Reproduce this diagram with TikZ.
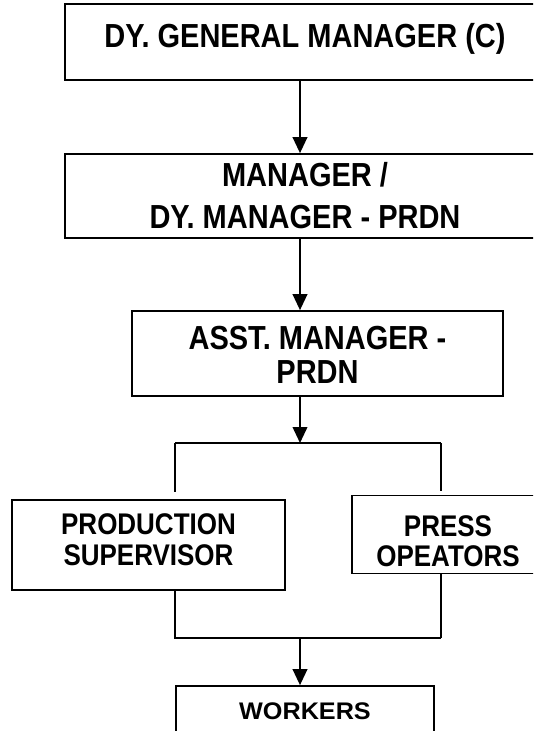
\documentclass[tikz,border=0pt]{standalone}
\usepackage{fontspec}
\setmainfont[FakeStretch=0.87]{Liberation Sans}
\newfontfamily\wideface[FakeStretch=1.05]{Liberation Sans}
\usetikzlibrary{arrows.meta, calc}

\begin{document}
\begin{tikzpicture}[
        x=0.75pt, y=-0.75pt,
        post/.style={draw, line width=1.3pt, inner sep=0pt},
        tag/.style={align=center, inner sep=0pt, font=\fontsize{25}{25.5}\selectfont\bfseries},
        lowtag/.style={tag, font=\fontsize{22.4}{23}\selectfont\bfseries},
        link/.style={line width=1.3pt},
        arr/.style={link, -{Triangle[length=12pt, width=11pt]}},
    ]
    \useasboundingbox (0,0) rectangle (533,731);
    \clip (0,0) rectangle (533,731);
    % UPPER POSTS
    \node[post, minimum width=360pt, minimum height=57pt,
        label={[tag, name=gmt, yshift=2pt]center:DY. GENERAL MANAGER (C)}] (gm) at (305,42) {};
    \node[post, minimum width=360pt, minimum height=63pt,
        label={[tag, name=mgrt, font=\fontsize{25}{31.5}\selectfont\bfseries]center:MANAGER /\\DY. MANAGER - PRDN}] (mgr) at (305,196) {};
    \node[post, minimum width=278.25pt, minimum height=63.75pt,
        label={[tag, name=asstt, yshift=-1pt]center:ASST. MANAGER -\\PRDN}] (asst) at (317.5,353.5) {};
    % LOWER POSTS
    \node[post, minimum width=204.75pt, minimum height=67.5pt,
        label={[lowtag, name=supt, yshift=4pt]center:PRODUCTION\\SUPERVISOR}] (sup) at (148.5,545) {};
    \node[post, minimum width=144pt, minimum height=58.5pt,
        label={[lowtag, name=presst, yshift=-5pt]center:PRESS\\OPEATORS}] (press) at (448,534.5) {};
    \node[post, minimum width=193.5pt, minimum height=38.25pt,
        label={[tag, name=workt, font=\wideface\fontsize{18}{18}\selectfont\bfseries]center:WORKERS}] (work) at (305,711.5) {};
    % JUNCTIONS
    \coordinate (sp) at (300,0);
    \coordinate (jt) at (300,443); \coordinate (jtl) at (175,443); \coordinate (jtr) at (441,443);
    \coordinate (jb) at (300,638); \coordinate (jbl) at (175,638); \coordinate (jbr) at (441,638);
    % CONNECTORS
    \draw[arr] (gm.south -| sp) -- (mgr.north -| sp);
    \draw[arr] (mgr.south -| sp) -- (asst.north -| sp);
    \draw[arr] (asst.south -| sp) -- (jt);
    \draw[link] (jtl) -- (jtr);
    \draw[link, shorten >=5pt] (jtl) -- (sup.north -| jtl);
    \draw[link, shorten >=3pt] (jtr) -- (press.north -| jtr);
    \draw[link] (sup.south -| jbl) |- (jbr);
    \draw[link] (press.south -| jbr) -- (jbr);
    \draw[arr] (jb) -- (work.north -| sp);
\end{tikzpicture}
\end{document}
